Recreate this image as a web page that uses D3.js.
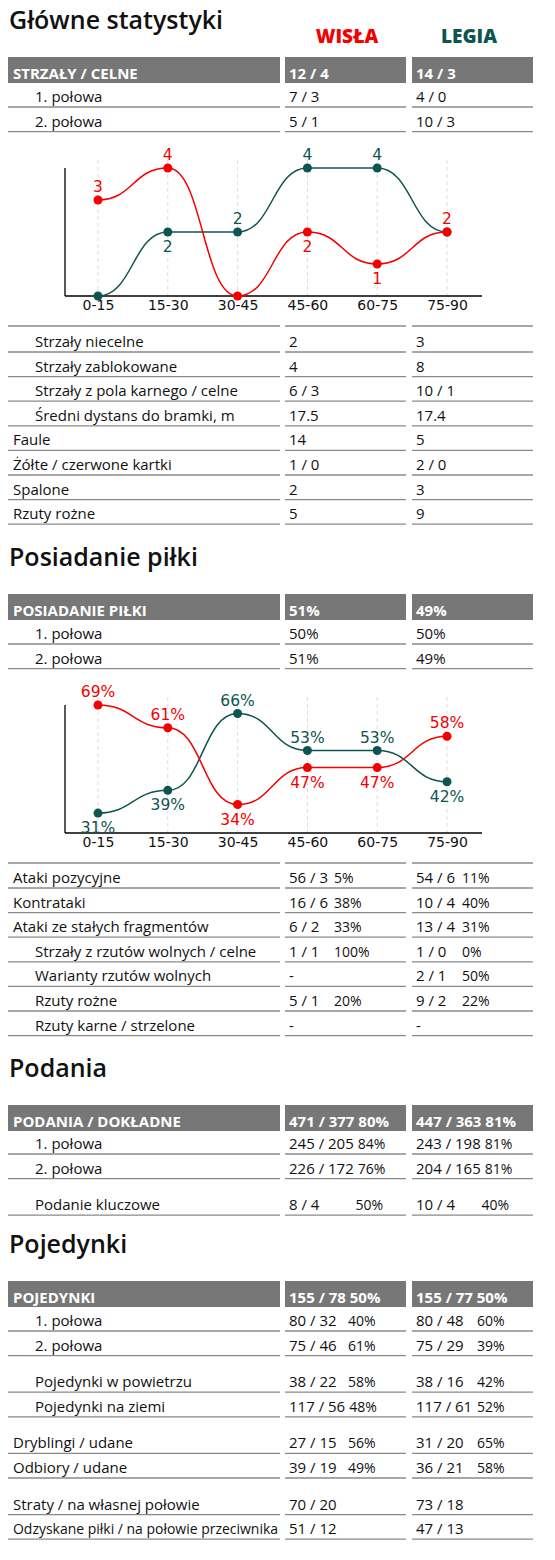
<!DOCTYPE html>
<html><head><meta charset="utf-8">
<script src="https://cdn.jsdelivr.net/npm/d3@7"></script>
<style>body{margin:0;background:#fff}svg{display:block}</style>
</head><body>
<script>
// ---------- DATA ----------
const periods = ["0-15","15-30","30-45","45-60","60-75","75-90"];
const teams = ["WISŁA","LEGIA"];
const shotsWisla = [3,4,0,2,1,2];
const shotsLegia = [0,2,2,4,4,2];
const possWisla = [69,61,34,47,47,58];
const possLegia = [31,39,66,53,53,42];

// rows: [label, indent, wisla, wislaPct, legia, legiaPct]  (null = spacer)
const shotsHeader = ["STRZAŁY / CELNE","12 / 4","","14 / 3",""];
const shotsHalves = [["1. połowa",1,"7 / 3","","4 / 0",""],["2. połowa",1,"5 / 1","","10 / 3",""]];
const shotsRows = [
 ["Strzały niecelne",1,"2","","3",""],
 ["Strzały zablokowane",1,"4","","8",""],
 ["Strzały z pola karnego / celne",1,"6 / 3","","10 / 1",""],
 ["Średni dystans do bramki, m",1,"17.5","","17.4",""],
 ["Faule",0,"14","","5",""],
 ["Żółte / czerwone kartki",0,"1 / 0","","2 / 0",""],
 ["Spalone",0,"2","","3",""],
 ["Rzuty rożne",0,"5","","9",""]];
const possHeader = ["POSIADANIE PIŁKI","51%","","49%",""];
const possHalves = [["1. połowa",1,"50%","","50%",""],["2. połowa",1,"51%","","49%",""]];
const attackRows = [
 ["Ataki pozycyjne",0,"56 / 3","5%","54 / 6","11%"],
 ["Kontrataki",0,"16 / 6","38%","10 / 4","40%"],
 ["Ataki ze stałych fragmentów",0,"6 / 2","33%","13 / 4","31%"],
 ["Strzały z rzutów wolnych / celne",1,"1 / 1","100%","1 / 0","0%"],
 ["Warianty rzutów wolnych",1,"-","","2 / 1","50%"],
 ["Rzuty rożne",1,"5 / 1","20%","9 / 2","22%"],
 ["Rzuty karne / strzelone",1,"-","","-",""]];
const passHeader = ["PODANIA / DOKŁADNE","471 / 377","80%","447 / 363","81%"];
const passRows = [
 ["1. połowa",1,"245 / 205","84%","243 / 198","81%"],
 ["2. połowa",1,"226 / 172","76%","204 / 165","81%"],
 null,
 ["Podanie kluczowe",1,"8 / 4","50%","10 / 4","40%"]];
const duelHeader = ["POJEDYNKI","155 / 78","50%","155 / 77","50%"];
const duelRows = [
 ["1. połowa",1,"80 / 32","40%","80 / 48","60%"],
 ["2. połowa",1,"75 / 46","61%","75 / 29","39%"],
 null,
 ["Pojedynki w powietrzu",1,"38 / 22","58%","38 / 16","42%"],
 ["Pojedynki na ziemi",1,"117 / 56","48%","117 / 61","52%"],
 null,
 ["Dryblingi / udane",0,"27 / 15","56%","31 / 20","65%"],
 ["Odbiory / udane",0,"39 / 19","49%","36 / 21","58%"],
 null,
 ["Straty / na własnej połowie",0,"70 / 20","","73 / 18",""],
 ["Odzyskane piłki / na połowie przeciwnika",0,"51 / 12","","47 / 13",""]];

// ---------- LAYOUT ----------
const RED="#f50000", GREEN="#0d5550", GREY="#777", LINE="#8a8a8a";
const FONT="'Open Sans', Lato, sans-serif";
const C=[{x0:8,x1:280,tx:13},{x0:285,x1:406,tx:289},{x0:412,x1:533,tx:416}];
const STEP=24.6, GAP=12;
const svg=d3.select("body").append("svg").attr("width",555).attr("height",1560);

function title(t,y){svg.append("text").attr("x",9).attr("y",y).text(t)
  .attr("font-family",FONT).attr("font-size",25).attr("font-weight",600).attr("fill","#111");}
function header(h,top){
  C.forEach(c=>svg.append("rect").attr("x",c.x0).attr("y",top).attr("width",c.x1-c.x0).attr("height",26).attr("fill",GREY));
  const g=svg.append("g").attr("font-family",FONT).attr("font-size",15).attr("font-weight",700).attr("fill","#fff");
  const y=top+22;
  g.append("text").attr("x",C[0].tx).attr("y",y).text(h[0]);
  g.append("text").attr("x",C[1].tx).attr("y",y).text(h[1]+(h[2]?" "+h[2]:""));
  g.append("text").attr("x",C[2].tx).attr("y",y).text(h[3]+(h[4]?" "+h[4]:""));
}
function lines(y){C.forEach(c=>svg.append("line").attr("x1",c.x0).attr("x2",c.x1).attr("y1",y).attr("y2",y).attr("stroke",LINE).attr("stroke-width",1.3));}
function table(rows,firstLine,pct){
  let y=firstLine;
  rows.forEach(r=>{
    if(r===null){y+=GAP;return;}
    const g=svg.append("g").attr("font-family",FONT).attr("font-size",15).attr("fill","#111");
    const lx=r[1]?35:13;
    const lt=g.append("text").attr("x",lx).attr("y",y-5).text(r[0]);
    const maxW=278-lx;
    if(lt.node().getComputedTextLength()>maxW) lt.attr("textLength",maxW).attr("lengthAdjust","spacingAndGlyphs");
    [[r[2],r[3],C[1].tx,pct[0]],[r[4],r[5],C[2].tx,pct[1]]].forEach(([v,p,vx,px])=>{
      const vt=g.append("text").attr("x",vx).attr("y",y-5).text(v);
      if(!p) return;
      const end=vx+vt.node().getComputedTextLength();
      const pt=g.append("text").attr("y",y-5).text(p).attr("font-size",14);
      const pw=pt.node().getComputedTextLength();
      let start=pct[2]?px-pw:px;
      start=Math.max(start,end+4);
      pt.attr("x",start);
    });
    lines(y); y+=STEP;
  });
}
function chart(w,l,top,bottom,domain,suffix){
  const x=d3.scalePoint().domain(periods).range([98,447]);
  const y=d3.scaleLinear().domain(domain).range([bottom,top]);
  const g=svg.append("g");
  periods.forEach(p=>g.append("line").attr("x1",x(p)).attr("x2",x(p)).attr("y1",top-8).attr("y2",bottom)
    .attr("stroke","#ddd").attr("stroke-dasharray","4,3"));
  g.append("line").attr("x1",65).attr("x2",65).attr("y1",top).attr("y2",bottom).attr("stroke","#000").attr("stroke-width",1.3);
  g.append("line").attr("x1",65).attr("x2",482).attr("y1",bottom).attr("y2",bottom).attr("stroke","#000").attr("stroke-width",1.3);
  const ax=g.append("g").attr("transform",`translate(0,${bottom})`).call(d3.axisBottom(x).tickSize(0).tickPadding(4));
  ax.select(".domain").remove();
  ax.selectAll("text").attr("font-family","'DejaVu Sans', sans-serif").attr("font-size",14).attr("fill","#111");
  const line=d3.line().x((d,i)=>x(periods[i])).y(d=>y(d)).curve(d3.curveBumpX);
  [[l,GREEN,w],[w,RED,l]].forEach(([vals,col,other])=>{
    g.append("path").attr("d",line(vals)).attr("fill","none").attr("stroke",col).attr("stroke-width",1.5);
    vals.forEach((v,i)=>{
      g.append("circle").attr("cx",x(periods[i])).attr("cy",y(v)).attr("r",4.5).attr("fill",col);
      if(v===0) return;
      if(v===other[i] && col===GREEN) return;
      const above=v>=other[i];
      g.append("text").attr("x",x(periods[i])).attr("y",above?y(v)-8:y(v)+20).attr("text-anchor","middle")
       .attr("font-family","'DejaVu Sans', sans-serif").attr("font-size",15.5).attr("fill",col).text(v+suffix);
    });
  });
}

// ---------- DRAW ----------
title("Główne statystyki",29);
[[teams[0],347,RED],[teams[1],469,GREEN]].forEach(([t,xx,c])=>svg.append("text").attr("x",xx).attr("y",43)
  .attr("text-anchor","middle").attr("font-family",FONT).attr("font-weight",800).attr("font-size",19).attr("fill",c).text(t));
header(shotsHeader,57);
table(shotsHalves,107,[0,0]);
chart(shotsWisla,shotsLegia,168,296,[0,4],"");
lines(326);
table(shotsRows,352,[0,0]);

title("Posiadanie piłki",566);
header(possHeader,594);
table(possHalves,644,[0,0]);
chart(possWisla,possLegia,705,833,[24,69],"%");
lines(863);
table(attackRows,888,[334,462]);

title("Podania",1077);
header(passHeader,1105);
table(passRows,1154,[383,509,true]);

title("Pojedynki",1253);
header(duelHeader,1281);
table(duelRows,1331,[348,477]);
</script>
</body></html>
